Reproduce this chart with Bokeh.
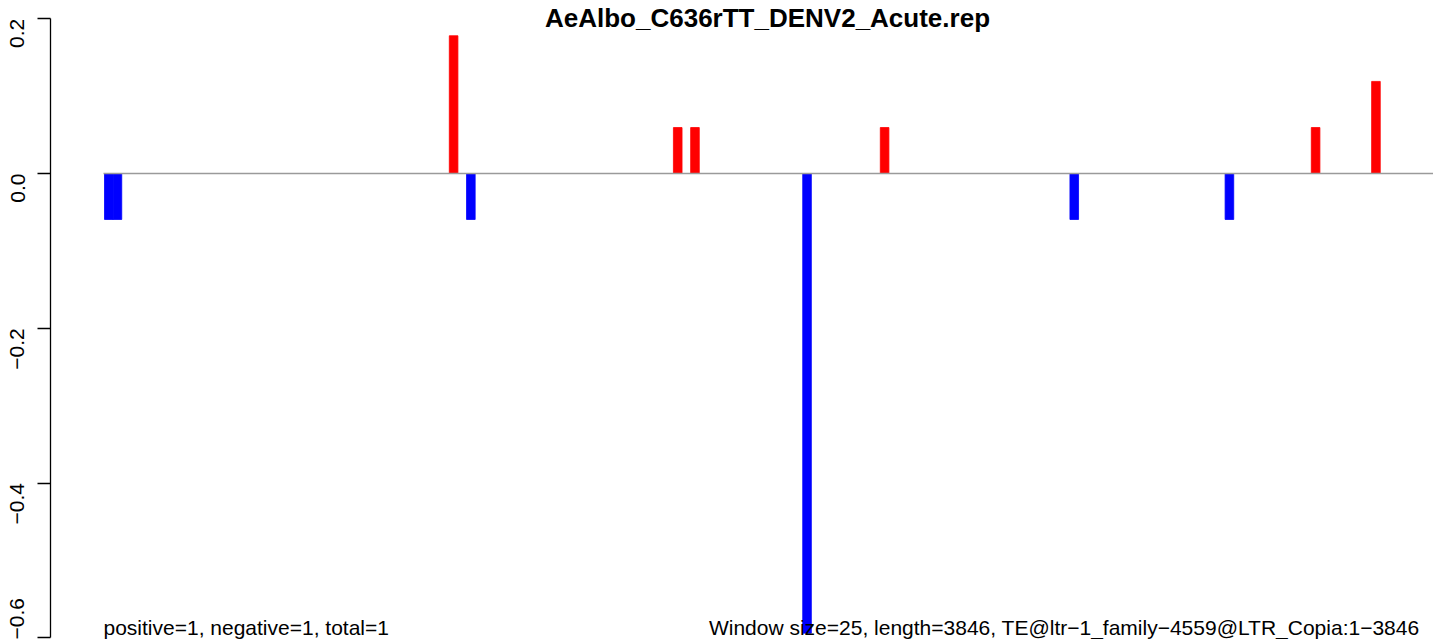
from bokeh.plotting import figure
from bokeh.models import Range1d, FixedTicker, Label, ColumnDataSource
from bokeh.embed import file_html
from bokeh.resources import INLINE

# ---- data (window index of 25 bp windows, signal value) ----
title_text = "AeAlbo_C636rTT_DENV2_Acute.rep"
left_note = "positive=1, negative=1, total=1"
right_note = "Window size=25, length=3846, TE@ltr\u22121_family\u22124559@LTR_Copia:1\u22123846"

pos_windows = [40, 66, 68, 90, 140, 147]
pos_values = [0.178, 0.0594, 0.0594, 0.0594, 0.0594, 0.119]
neg_windows = [0, 1, 42, 81, 112, 130]
neg_values = [-0.0594, -0.0594, -0.0594, -0.594, -0.0594, -0.0594]

y_ticks = [-0.6, -0.4, -0.2, 0.0, 0.2]
y_tick_labels = ["\u22120.6", "\u22120.4", "\u22120.2", "0.0", "0.2"]

FONT = "Liberation Sans"
W, H = 1433, 639
LEFT = 50
px_per_win = 8.62
y_px = 773.8
y0_px = 173.0
x0 = (LEFT - 104) / px_per_win
x1 = x0 + (W - LEFT) / px_per_win

def xw(px):
    return (px - 104) / px_per_win

def yv(py):
    return (y0_px - py) / y_px

p = figure(width=W, height=H, output_backend="svg", toolbar_location=None,
           x_range=Range1d(x0, x1), y_range=Range1d(yv(H), yv(0)),
           x_axis_location=None, min_border_left=LEFT, min_border_right=0,
           min_border_top=0, min_border_bottom=0)
p.outline_line_color = None
p.xgrid.visible = False
p.ygrid.visible = False
p.background_fill_color = "white"

ax = p.yaxis[0]
ax.ticker = FixedTicker(ticks=y_ticks)
ax.major_label_overrides = {t: l for t, l in zip(y_ticks, y_tick_labels)}
ax.bounds = (-0.6, 0.2)
ax.major_label_orientation = 3.14159265 / 2
ax.major_label_text_font = FONT
ax.major_label_text_font_size = "21px"
ax.major_label_text_color = "black"
ax.major_tick_out = 13
ax.major_tick_in = 0
ax.minor_tick_out = 0
ax.minor_tick_in = 0
ax.major_label_standoff = 20
ax.axis_line_color = "black"
ax.axis_line_width = 1.3
ax.major_tick_line_width = 1.3

pos_src = ColumnDataSource(dict(x=[w + 0.5 for w in pos_windows], top=pos_values))
neg_src = ColumnDataSource(dict(x=[w + 0.5 for w in neg_windows], top=neg_values))
p.vbar(x="x", top="top", bottom=0, width=1.0, source=pos_src,
       fill_color="#FF0000", line_color="#FF0000", line_width=0.8)
p.vbar(x="x", top="top", bottom=0, width=1.0, source=neg_src,
       fill_color="#0000FF", line_color="#0000FF", line_width=0.8)

p.segment(x0=[xw(103)], y0=[0], x1=[x1 + 5], y1=[0], line_color="#9A9A9A", line_width=1.5)

p.add_layout(Label(x=xw(767), y=yv(2), text=title_text,
                   text_font=FONT, text_font_size="26px", text_font_style="bold",
                   text_align="center", text_baseline="top", text_color="black"))
p.add_layout(Label(x=xw(103), y=yv(627), text=left_note,
                   text_font=FONT, text_font_size="21px",
                   text_align="left", text_baseline="alphabetic", text_color="black"))
p.add_layout(Label(x=xw(1419), y=yv(627), text=right_note,
                   text_font=FONT, text_font_size="21px",
                   text_align="right", text_baseline="alphabetic", text_color="black"))

open("out.html", "w").write(file_html(p, INLINE))
